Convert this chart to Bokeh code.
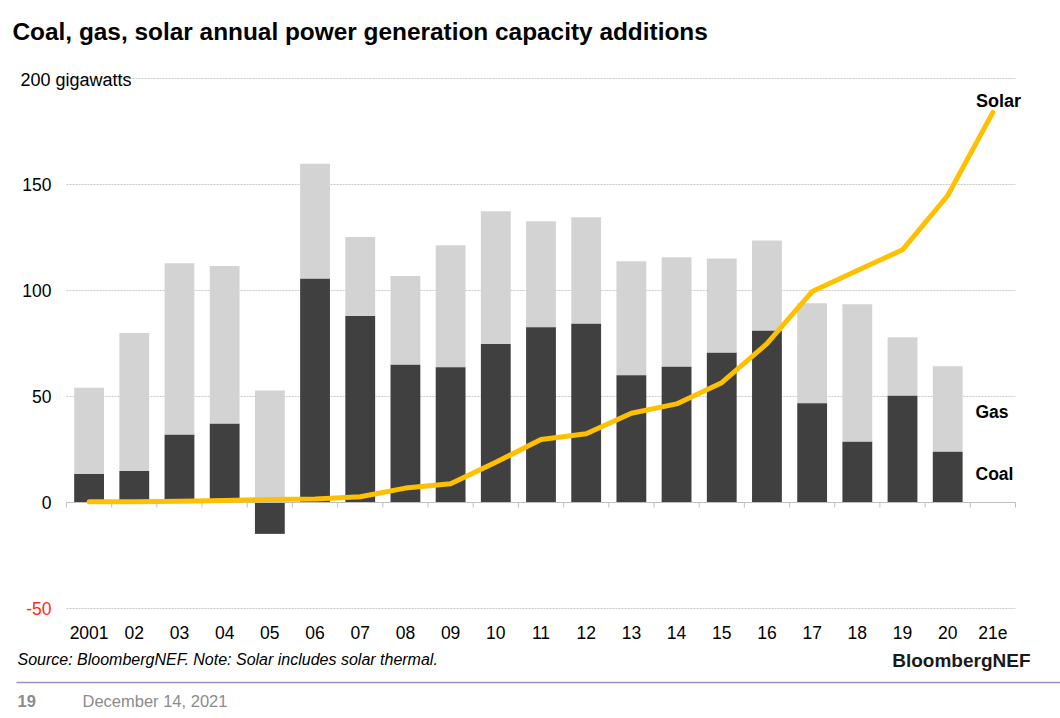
from bokeh.plotting import figure
from bokeh.models import ColumnDataSource
from bokeh.core.properties import value
from bokeh.embed import file_html
from bokeh.resources import INLINE

# ---- data ----
years = ["2001", "02", "03", "04", "05", "06", "07", "08", "09", "10",
         "11", "12", "13", "14", "15", "16", "17", "18", "19", "20", "21e"]
coal = [13.4, 14.8, 31.9, 37.1, -14.8, 105.5, 88.0, 65.0, 63.8, 74.8,
        82.7, 84.3, 60.0, 64.0, 70.6, 81.0, 46.8, 28.6, 50.3, 23.9, None]
gas = [40.7, 65.1, 81.0, 74.4, 52.8, 54.3, 37.2, 41.8, 57.6, 62.6,
       50.0, 50.3, 53.8, 51.7, 44.5, 42.6, 47.2, 64.9, 27.7, 40.4, None]
solar = [0.3, 0.4, 0.6, 0.9, 1.4, 1.6, 2.7, 6.8, 8.8, 19.0,
         29.7, 32.4, 42.1, 46.5, 56.5, 74.9, 99.5, 109.4, 119.2, 144.8, 184.0]
y_ticks = [-50, 0, 50, 100, 150]
y_tick_labels = ["-50", "0", "50", "100", "150"]
y_tick_colors = ["#ff2a1a", "#000000", "#000000", "#000000", "#000000"]
grid_ticks = [-50, 50, 100, 150, 200]

FONT = "Liberation Sans"
COAL_C = "#404040"
GAS_C = "#d3d3d3"
SOLAR_C = "#FFC000"
LBL = "17.5px"

W, H = 1060, 718
PX = 45.19          # pixels per category
PY = 2.12           # pixels per gigawatt
FRAME_L, FRAME_T = 66, 78   # pixel position of (x=-0.5, y=200)

x_start = -0.5 - FRAME_L / PX
x_end = x_start + W / PX
y_end = 200 + FRAME_T / PY
y_start = y_end - H / PY


def xd(px):
    return x_start + px / PX


def yd(py):
    return y_end - py / PY


idx = list(range(len(years)))
bar_idx = [i for i in idx if coal[i] is not None]
coal_bottom = [min(coal[i], 0) for i in bar_idx]
coal_top = [max(coal[i], 0) for i in bar_idx]
gas_bottom = [max(coal[i], 0) for i in bar_idx]
gas_top = [gas_bottom[k] + gas[i] for k, i in enumerate(bar_idx)]

src = ColumnDataSource(dict(x=bar_idx, cb=coal_bottom, ct=coal_top,
                            gb=gas_bottom, gt=gas_top))

p = figure(width=W, height=H, x_range=(x_start, x_end),
           y_range=(y_start, y_end), output_backend="svg",
           toolbar_location=None, x_axis_type=None, y_axis_type=None,
           min_border=0)
p.outline_line_color = None
p.background_fill_color = "white"
p.border_fill_color = "white"
p.grid.visible = False

n = len(years)
# dotted gridlines across the plot area
p.segment(x0=[-0.5] * len(grid_ticks), x1=[n - 0.5] * len(grid_ticks),
          y0=grid_ticks, y1=grid_ticks, line_color="#c8c8c8",
          line_dash="2 1", line_width=1)

# bars
p.vbar(x="x", bottom="gb", top="gt", width=0.66, source=src,
       fill_color=GAS_C, line_color=None)
p.vbar(x="x", bottom="cb", top="ct", width=0.66, source=src,
       fill_color=COAL_C, line_color=None)

# zero axis line and tick marks between categories
bounds = [i - 0.5 for i in range(n + 1)]
p.segment(x0=[-0.5], x1=[n - 0.5], y0=[0], y1=[0], line_color="#bfbfbf",
          line_width=1)
p.segment(x0=bounds, x1=bounds, y0=[0] * len(bounds),
          y1=[-5 / PY] * len(bounds), line_color="#bfbfbf", line_width=1)

# solar line
p.line(idx, solar, line_color=SOLAR_C, line_width=5, line_join="round",
       line_cap="round")

# category labels
p.text(x=idx, y=[yd(632)] * n, text=years, text_font=value(FONT),
       text_font_size=LBL, text_align="center",
       text_baseline="middle", text_color="#000000")

# value labels
p.text(x=[xd(51)] * len(y_ticks), y=y_ticks, text=y_tick_labels,
       text_font=value(FONT), text_font_size=LBL, text_align="right",
       text_baseline="middle", text_color=y_tick_colors)


def lab(text, px, py, size, align="left", style="normal", color="#000000"):
    p.text(x=[xd(px)], y=[yd(py)], text=[text], text_font=value(FONT),
           text_font_size=size, text_font_style=style, text_align=align,
           text_baseline="middle", text_color=color)


lab("Coal, gas, solar annual power generation capacity additions", 12, 31,
    "24.4px", style="bold")
lab("200 gigawatts", 20, 79, "18px")
lab("Solar", 998, 100, "18px", align="center", style="bold")
lab("Gas", 975, 411, LBL, style="bold")
lab("Coal", 975, 473, LBL, style="bold")
lab("Source: BloombergNEF. Note: Solar includes solar thermal.", 17, 659,
    "16px", style="italic")
lab("BloombergNEF", 1030, 660, "19px", align="right", style="bold",
    color="#1a1a1a")
lab("19", 17, 700, "16.5px", style="bold", color="#8c8c8c")
lab("December 14, 2021", 82, 700, "16.5px", color="#8c8c8c")

# footer rule
p.segment(x0=[xd(16)], x1=[xd(W)], y0=[yd(682)], y1=[yd(682)],
          line_color="#9d8fcf", line_width=1.5)

open("out.html", "w").write(file_html(p, INLINE))
